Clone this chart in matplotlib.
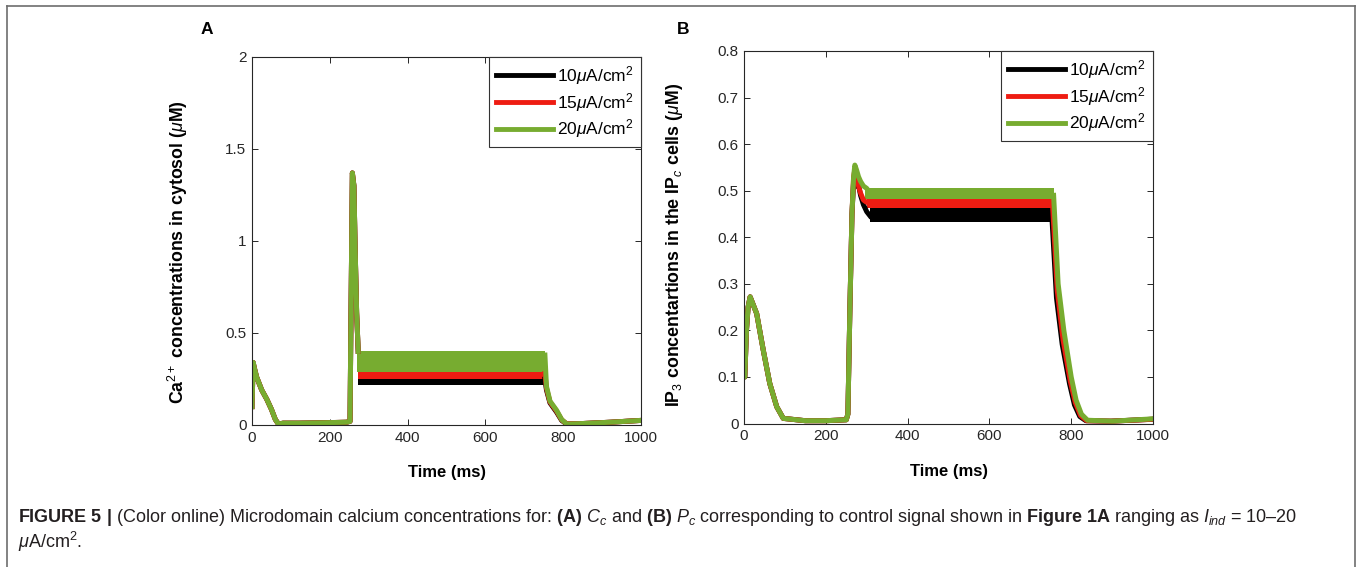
import matplotlib
matplotlib.use("Agg")
import matplotlib.pyplot as plt
from matplotlib.lines import Line2D
import numpy as np

plt.rcParams['font.family'] = ['Liberation Sans', 'DejaVu Sans']
plt.rcParams['mathtext.fontset'] = 'custom'
plt.rcParams['mathtext.rm'] = 'Liberation Sans'
plt.rcParams['mathtext.it'] = 'Liberation Sans:italic'
plt.rcParams['mathtext.bf'] = 'Liberation Sans:bold'

# ---------------- data ----------------
labels = [r"10$\mu$A/cm$^2$", r"15$\mu$A/cm$^2$", r"20$\mu$A/cm$^2$"]
colors = ["#000000", "#ee1c12", "#77ac30"]

# Panel A: Ca2+ in cytosol
ca_t_pre = [0, 3, 6, 12, 25, 38, 50, 60, 68, 80, 120, 180, 243, 252, 254, 258, 262, 265, 269, 273]
ca_pre = [
    [0.10, 0.34, 0.31, 0.26, 0.19, 0.14, 0.085, 0.03, 0.005, 0.01, 0.01, 0.012, 0.015, 0.02, 0.5, 1.37, 1.30, 0.97, 0.61, 0.40],
    [0.10, 0.34, 0.31, 0.26, 0.19, 0.14, 0.085, 0.03, 0.005, 0.01, 0.01, 0.012, 0.015, 0.02, 0.5, 1.37, 1.30, 0.97, 0.61, 0.40],
    [0.10, 0.34, 0.31, 0.26, 0.19, 0.14, 0.085, 0.03, 0.005, 0.01, 0.01, 0.012, 0.015, 0.02, 0.5, 1.37, 1.30, 0.97, 0.61, 0.40],
]
ca_band_t = [[273, 752], [273, 752], [270, 753]]
ca_band_low = [0.22, 0.25, 0.29]
ca_band_high = [0.26, 0.29, 0.40]
ca_t_post = [753, 757, 766, 783, 796, 809, 850, 920, 1000]
ca_post = [
    [0.25, 0.19, 0.12, 0.07, 0.025, 0.005, 0.008, 0.015, 0.025],
    [0.28, 0.20, 0.125, 0.075, 0.028, 0.006, 0.008, 0.015, 0.025],
    [0.38, 0.21, 0.13, 0.08, 0.03, 0.005, 0.008, 0.015, 0.025],
]

# Panel B: IP3 in IPc cells
ip_t_pre = [0, 2, 6, 10, 15, 31, 47, 63, 80, 96, 150, 200, 250, 254, 259, 264, 268, 271, 275, 280, 285, 292, 300, 308]
ip_pre = [
    [0.10, 0.10, 0.20, 0.25, 0.272, 0.236, 0.158, 0.086, 0.036, 0.011, 0.006, 0.006, 0.008, 0.02, 0.25, 0.45, 0.52, 0.53, 0.51, 0.512, 0.49, 0.47, 0.455, 0.446],
    [0.10, 0.10, 0.20, 0.25, 0.272, 0.236, 0.158, 0.086, 0.036, 0.011, 0.006, 0.006, 0.008, 0.02, 0.25, 0.45, 0.53, 0.545, 0.537, 0.51, 0.495, 0.48, 0.475, 0.474],
    [0.10, 0.10, 0.20, 0.25, 0.272, 0.236, 0.158, 0.086, 0.036, 0.011, 0.006, 0.006, 0.008, 0.02, 0.25, 0.45, 0.53, 0.555, 0.545, 0.53, 0.52, 0.51, 0.505, 0.495],
]
ip_band_t = [[308, 754], [300, 756], [295, 758]]
ip_band_low = [0.432, 0.462, 0.483]
ip_band_high = [0.462, 0.487, 0.505]
ip_t_post = [757, 768, 782, 800, 812, 825, 840, 900, 1000]
ip_post = [
    [0.44, 0.27, 0.17, 0.085, 0.04, 0.015, 0.006, 0.005, 0.009],
    [0.46, 0.285, 0.18, 0.09, 0.045, 0.017, 0.006, 0.005, 0.009],
    [0.49, 0.30, 0.20, 0.10, 0.05, 0.02, 0.007, 0.005, 0.01],
]
ip_post_shift = [-4, -2, 0]

xticks = [0, 200, 400, 600, 800, 1000]
ca_yticks = [0, 0.5, 1, 1.5, 2]
ca_yticklabels = ["0", "0.5", "1", "1.5", "2"]
ip_yticks = [0, 0.1, 0.2, 0.3, 0.4, 0.5, 0.6, 0.7, 0.8]
ip_yticklabels = ["0", "0.1", "0.2", "0.3", "0.4", "0.5", "0.6", "0.7", "0.8"]

caption1 = (r"$\mathbf{FIGURE\ 5\ |}$ (Color online) Microdomain calcium concentrations for: "
            r"$\mathbf{(A)}$ $C_c$ and $\mathbf{(B)}$ $P_c$ corresponding to control signal shown in "
            r"$\mathbf{Figure\ 1A}$ ranging as $I_{ind}$ = 10–20")
caption2 = r"$\mu$A/cm$^2$."

# ---------------- figure ----------------
W, H = 1360, 567
fig = plt.figure(figsize=(W / 100, H / 100), dpi=100)

def frac(l, t, r, b):
    return [l / W, 1 - b / H, (r - l) / W, (b - t) / H]

axA = fig.add_axes(frac(252, 57, 641, 425))
axB = fig.add_axes(frac(744, 51, 1153, 423.5))

LW = 3.6
spine_c = "#262626"

def style(ax):
    for s in ax.spines.values():
        s.set_color(spine_c)
        s.set_linewidth(0.8)
    ax.tick_params(direction="in", top=True, right=True, length=4, width=0.7,
                   labelsize=11, colors=spine_c, labelcolor="#262626", pad=4)
    ax.set_xlim(0, 1000)
    ax.set_xticks(xticks)

# Panel A
for i in range(3):
    axA.plot(ca_t_pre, ca_pre[i], color=colors[i], lw=LW, solid_joinstyle="round", label=labels[i])
    axA.fill_between(ca_band_t[i], ca_band_low[i], ca_band_high[i], color=colors[i], lw=0)
    axA.plot(ca_t_post, ca_post[i], color=colors[i], lw=LW, solid_joinstyle="round")
style(axA)
axA.set_ylim(0, 2)
axA.set_yticks(ca_yticks)
axA.set_yticklabels(ca_yticklabels)
axA.set_xlabel("Time (ms)", fontsize=12, fontweight="bold")
axA.xaxis.set_label_coords(0.5, -0.11)
axA.set_ylabel(r"Ca$^{2+}$ concentrations in cytosol ($\mu$M)", fontsize=12.8, fontweight="bold")
axA.yaxis.set_label_coords(-0.16, 0.47)

# Panel B
for i in range(3):
    axB.plot(ip_t_pre, ip_pre[i], color=colors[i], lw=LW, solid_joinstyle="round", label=labels[i])
    axB.fill_between(ip_band_t[i], ip_band_low[i], ip_band_high[i], color=colors[i], lw=0)
    axB.plot(np.array(ip_t_post) + ip_post_shift[i], ip_post[i], color=colors[i], lw=LW, solid_joinstyle="round")
style(axB)
axB.set_ylim(0, 0.8)
axB.set_yticks(ip_yticks)
axB.set_yticklabels(ip_yticklabels)
axB.set_xlabel("Time (ms)", fontsize=12, fontweight="bold")
axB.xaxis.set_label_coords(0.5, -0.11)
axB.set_ylabel(r"IP$_3$ concentartions in the IP$_c$ cells ($\mu$M)", fontsize=12.8, fontweight="bold")
axB.yaxis.set_label_coords(-0.145, 0.48)

for ax in (axA, axB):
    leg = ax.legend(loc="upper right", borderaxespad=0, fancybox=False, framealpha=1,
                    edgecolor="#333333", fontsize=12.5, handlelength=3.3, handletextpad=0.25,
                    labelspacing=0.22, borderpad=0.4)
    leg.get_frame().set_linewidth(0.8)
    for h in leg.get_lines():
        h.set_linewidth(3.5)

fig.text(207 / W, 1 - 30 / H, "A", fontsize=12.5, fontweight="bold", ha="center", va="center")
fig.text(683 / W, 1 - 30 / H, "B", fontsize=12.5, fontweight="bold", ha="center", va="center")

capfont = ['Liberation Sans', 'DejaVu Sans']
fig.text(18 / W, 1 - 517 / H, caption1, fontsize=13, ha="left", va="center", family=capfont, color="#231f20")
fig.text(18 / W, 1 - 542 / H, caption2, fontsize=13, ha="left", va="center", family=capfont, color="#231f20")

# outer frame
bc = "#6d6d6d"
fig.add_artist(Line2D([7 / W, 7 / W], [0, 1 - 6 / H], transform=fig.transFigure, color=bc, lw=1.2))
fig.add_artist(Line2D([7 / W, 1355 / W], [1 - 6 / H, 1 - 6 / H], transform=fig.transFigure, color=bc, lw=1.2))
fig.add_artist(Line2D([1355 / W, 1355 / W], [0, 1 - 6 / H], transform=fig.transFigure, color=bc, lw=1.2))

fig.savefig("out.png", dpi=100)
